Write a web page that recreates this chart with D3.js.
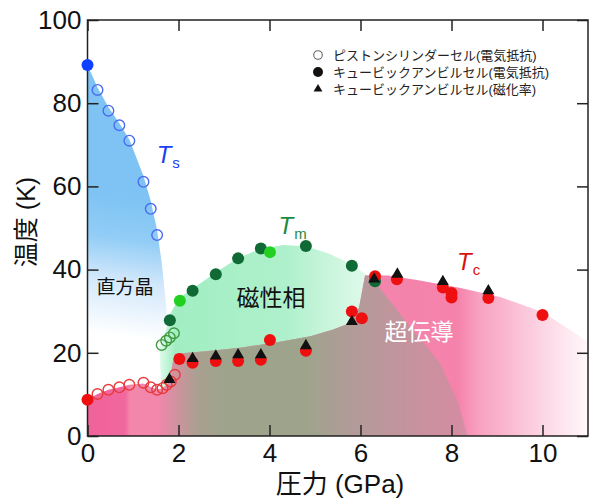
<!DOCTYPE html>
<meta charset="utf-8">
<style>
body { margin: 0; background: #fff; }
text { font-family: "Liberation Sans", "Noto Sans CJK JP", sans-serif; }
.axis line { stroke: #222; stroke-width: 1.5px; }
.axis path { display: none; }
.axis text { font-size: 26px; fill: #111; }
</style>
<svg></svg>
<script src="https://d3js.org/d3.v7.min.js"></script>
<script>

// ---- data (pressure GPa, temperature K) ----
var xTicks = [0, 2, 4, 6, 8, 10];
var yTicks = [0, 20, 40, 60, 80, 100];

var pistonTs = [[0.22,83.2],[0.46,78.2],[0.70,74.7],[0.92,71.0],[1.23,61.1],[1.39,54.6],[1.53,48.3]];
var cubicTs  = [[0,89.2]];
var pistonTc = [[0.22,10.1],[0.46,11.1],[0.70,11.7],[0.92,12.3],[1.23,12.8],[1.39,11.7],[1.53,11.1],[1.65,11.5],[1.74,12.3],[1.83,13.1],[1.92,14.7]];
var pistonTm = [[1.63,21.9],[1.73,22.9],[1.81,23.7],[1.90,24.7]];
var cubicTm  = [[1.81,27.8],[2.31,34.9],[2.82,38.9],[3.31,42.7],[3.81,45.1],[4.8,45.7],[5.81,40.9],[6.32,37.2]];
var cubicTm2 = [[2.03,32.5],[4.01,44.2]];
var cubicTc  = [[0,8.7],[2.02,18.5],[2.31,17.6],[2.82,18.0],[3.31,18.0],[3.81,18.3],[4.01,23.1],[4.8,20.5],[5.81,29.9],[6.03,28.3],[6.32,38.4],[6.8,37.7],[7.81,35.7],[8.0,34.4],[8.0,33.3],[8.81,33.2],[10.0,29.1]];
var suscTc   = [[1.80,13.6],[2.31,18.6],[2.82,19.2],[3.31,19.5],[3.81,19.5],[4.8,21.7],[5.81,27.5],[6.30,37.7],[6.81,38.9],[7.81,37.1],[8.81,34.9]];

// phase regions
var orthoRegion = [[0,89.2],[0.22,83.8],[0.46,79],[0.70,75.2],[0.92,71.3],[1.23,62.5],[1.39,56.5],[1.53,49.5],[1.64,41],[1.73,31],[1.8,21],[1.84,10],[1.84,0],[0,0]];
var magRegion = [[1.62,12],[1.58,21.5],[1.72,25],[1.82,29.5],[2.03,33.3],[2.31,35.4],[2.82,39.3],[3.31,42.8],[3.81,45],[4.3,45.9],[4.8,45.6],[5.3,43.9],[5.81,41.2],[6.12,38.8],[6.6,30],[7.2,20],[7.6,10],[7.8,0],[1.7,0]];
var scRegion = [[0,8.7],[0.22,10.1],[0.46,11.1],[0.70,11.7],[0.92,12.3],[1.23,12.6],[1.39,11.8],[1.53,11.2],[1.65,11.5],[1.74,12.3],[1.82,13.5],[1.86,17],[1.92,19.8],[2.6,20.4],[3.4,21.3],[4.2,22.6],[4.9,24],[5.4,25.6],[5.8,27.3],[5.97,31],[6.1,38.6],[6.6,38.6],[7.24,37.5],[8.2,35.6],[9.07,33.4],[10.0,29.8],[10.82,24],[11,22.5],[11,0],[0,0]];
var overlapRegion = [[1.55,0],[1.6,30],[6.1,42],[6.25,38],[7.0,27.5],[7.75,17.5],[8.15,8],[8.35,0]];

var legendLabels = ["ピストンシリンダーセル(電気抵抗)", "キュービックアンビルセル(電気抵抗)", "キュービックアンビルセル(磁化率)"];

var width = 591, height = 501;
var svg = d3.select("svg").attr("width", width).attr("height", height);

var x = d3.scaleLinear().domain([0, 11]).range([87.5, 588]);
var y = d3.scaleLinear().domain([0, 100]).range([436, 20]);

var defs = svg.append("defs");

function grad(id, x1, y1, x2, y2, stops) {
  var g = defs.append("linearGradient").attr("id", id)
    .attr("gradientUnits", "userSpaceOnUse")
    .attr("x1", x1).attr("y1", y1).attr("x2", x2).attr("y2", y2);
  stops.forEach(function(s) {
    g.append("stop").attr("offset", s[0]).attr("stop-color", s[1])
      .attr("stop-opacity", s[2] == null ? 1 : s[2]);
  });
}

grad("gBlue", x(0.4), y(58), x(0.0), y(25), [[0,"#7ec3f4"],[0.3,"#92cdf6"],[0.6,"#d2e8fb"],[1,"#ffffff"]]);
grad("gMint", x(1.55), 0, x(6.2), 0, [[0,"#e6fbef"],[0.08,"#a2eec3"],[0.6,"#aef0cb"],[1,"#e2faec"]]);
grad("gPink", x(0), 0, x(11), 0, [[0,"#f0629a"],[0.075,"#f0689e"],[0.085,"#f286ab"],[0.6,"#f484ab"],[0.74,"#f582ab"],[0.78,"#f8a0c0"],[0.9,"#fcd2e2"],[1,"#fff8fb"]]);
grad("gOlive", x(1.55), 0, x(8.35), 0, [[0,"#9ea48c",0],[0.125,"#9ea48c",0.85],[0.21,"#9ea48c",1],[0.48,"#9ea48c",1],[0.62,"#aa9e96",0.9],[1,"#c8909f",0.7]]);

var area = d3.line().x(function(d) { return x(d[0]); }).y(function(d) { return y(d[1]); });

defs.append("clipPath").attr("id", "clipSc")
  .append("path").attr("d", area(scRegion) + "Z");

var regions = svg.append("g");
regions.append("path").attr("d", area(orthoRegion) + "Z").attr("fill", "url(#gBlue)");
regions.append("path").attr("d", area(magRegion) + "Z").attr("fill", "url(#gMint)");
regions.append("path").attr("d", area(scRegion) + "Z").attr("fill", "url(#gPink)");
regions.append("path").attr("d", area(overlapRegion) + "Z").attr("fill", "url(#gOlive)")
  .attr("clip-path", "url(#clipSc)");

// phase names
svg.append("text").attr("x", 125).attr("y", 294).attr("text-anchor", "middle")
  .style("font-size", "19px").attr("fill", "#111").text("直方晶");
svg.append("text").attr("x", 271).attr("y", 306).attr("text-anchor", "middle")
  .style("font-size", "23px").attr("fill", "#111").text("磁性相");
svg.append("text").attr("x", 419).attr("y", 340).attr("text-anchor", "middle")
  .style("font-size", "23px").attr("fill", "#fff").text("超伝導");

// T labels
function tLabel(px, py, sub, color) {
  var t = svg.append("text").attr("x", px).attr("y", py).attr("fill", color);
  t.append("tspan").style("font-size", "24px").style("font-style", "italic").text("T");
  t.append("tspan").attr("dx", 1).attr("dy", 5).style("font-size", "15px").text(sub);
}
tLabel(x(1.52), y(65.6), "s", "#1a3ff0");
tLabel(x(4.2), y(48.6), "m", "#1e8a40");
tLabel(x(8.12), y(39.9), "c", "#d81010");

// axes with inward ticks on all sides
svg.append("g").attr("class", "axis").attr("transform", "translate(0," + y(0) + ")")
  .call(d3.axisBottom(x).tickValues(xTicks).tickSize(-11).tickPadding(8));
svg.append("g").attr("class", "axis").attr("transform", "translate(0," + y(100) + ")")
  .call(d3.axisTop(x).tickValues(xTicks).tickSize(-11).tickFormat(""));
svg.append("g").attr("class", "axis").attr("transform", "translate(" + x(0) + ",0)")
  .call(d3.axisLeft(y).tickValues(yTicks).tickSize(-11).tickPadding(6));
svg.append("g").attr("class", "axis").attr("transform", "translate(" + x(11) + ",0)")
  .call(d3.axisRight(y).tickValues(yTicks).tickSize(-11).tickFormat(""));

svg.append("rect").attr("x", x(0)).attr("y", y(100))
  .attr("width", x(11) - x(0)).attr("height", y(0) - y(100))
  .attr("fill", "none").attr("stroke", "#222").attr("stroke-width", 1.5);

svg.append("text").attr("x", 340).attr("y", 493).attr("text-anchor", "middle")
  .style("font-size", "26px").attr("fill", "#111").text("圧力 (GPa)");
svg.append("text").attr("transform", "translate(35,222) rotate(-90)").attr("text-anchor", "middle")
  .style("font-size", "25px").attr("fill", "#111").text("温度 (K)");

// markers
var pts = svg.append("g");
function openCircles(data, color) {
  pts.append("g").selectAll("circle").data(data).enter().append("circle")
    .attr("cx", function(d) { return x(d[0]); }).attr("cy", function(d) { return y(d[1]); })
    .attr("r", 5.3).attr("fill", "none").attr("stroke", color).attr("stroke-width", 1.4);
}
function dots(data, color) {
  pts.append("g").selectAll("circle").data(data).enter().append("circle")
    .attr("cx", function(d) { return x(d[0]); }).attr("cy", function(d) { return y(d[1]); })
    .attr("r", 6).attr("fill", color);
}
openCircles(pistonTs, "#4a6cf0");
openCircles(pistonTc, "#e83a3a");
openCircles(pistonTm, "#3f9a3f");
dots(cubicTs, "#1040ff");
dots(cubicTm, "#0f6a36");
dots(cubicTm2, "#22d022");
dots(cubicTc, "#ee1010");

var tri = d3.symbol().type(d3.symbolTriangle).size(62);
pts.append("g").selectAll("path").data(suscTc).enter().append("path")
  .attr("d", tri)
  .attr("transform", function(d) { return "translate(" + x(d[0]) + "," + y(d[1]) + ")"; })
  .attr("fill", "#111");

// legend
var legend = svg.append("g");
legendLabels.forEach(function(label, i) {
  var ly = 55 + i * 17;
  if (i === 0) legend.append("circle").attr("cx", 318).attr("cy", ly).attr("r", 4.3)
    .attr("fill", "none").attr("stroke", "#666").attr("stroke-width", 1.1);
  if (i === 1) legend.append("circle").attr("cx", 318).attr("cy", ly).attr("r", 5).attr("fill", "#111");
  if (i === 2) legend.append("path").attr("d", d3.symbol().type(d3.symbolTriangle).size(34))
    .attr("transform", "translate(318," + ly + ")").attr("fill", "#111");
  legend.append("text").attr("x", 333).attr("y", ly).attr("dy", "0.36em")
    .style("font-size", "13px").attr("fill", "#222").text(label);
});

</script>
